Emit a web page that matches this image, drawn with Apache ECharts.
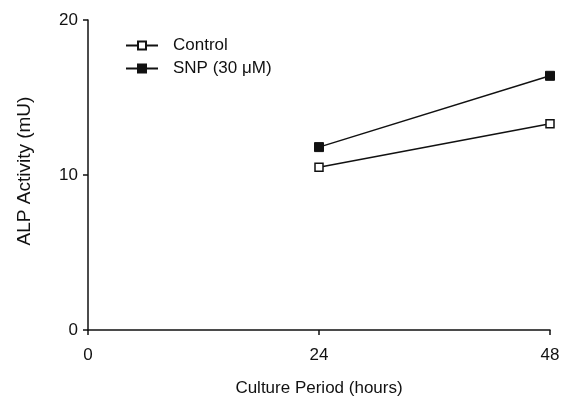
<!DOCTYPE html>
<html>
<head>
<meta charset="utf-8">
<script src="https://cdn.jsdelivr.net/npm/echarts@6/dist/echarts.min.js"></script>
<style>
  html, body { margin: 0; padding: 0; background: #fff; }
  #main { width: 566px; height: 405px; }
</style>
</head>
<body>
<div id="main"></div>
<script>
// 数据
const hours = [24, 48];
const control = [10.5, 13.3];
const snp = [11.8, 16.4];
const xTicks = [0, 24, 48];
const yTicks = [0, 10, 20];

const font = 'Liberation Sans, Arial, sans-serif';
const chart = echarts.init(document.getElementById('main'));

const pairs = (ys) => hours.map((h, i) => [h, ys[i]]);

const option = {
    animation: false,
    backgroundColor: '#fff',
    grid: { left: 88, right: 16, top: 20, bottom: 75 },
    legend: {
        left: 120, top: 32, orient: 'vertical', itemGap: 6,
        itemWidth: 32, itemHeight: 10,
        textStyle: { fontFamily: font, fontSize: 17, color: '#111', padding: [0, 0, 0, 10] },
        data: ['Control', 'SNP (30 μM)']
    },
    xAxis: {
        type: 'value', min: 0, max: 48, interval: 24,
        name: 'Culture Period (hours)', nameLocation: 'middle', nameGap: 50,
        nameTextStyle: { fontFamily: font, fontSize: 17, color: '#111' },
        axisLine: { lineStyle: { color: '#111', width: 1.5 } },
        axisTick: { length: 5, lineStyle: { color: '#111', width: 1.5 } },
        axisLabel: { fontFamily: font, fontSize: 17, color: '#111', margin: 17 },
        splitLine: { show: false }
    },
    yAxis: {
        type: 'value', min: 0, max: 20, interval: 10,
        name: 'ALP Activity (mU)', nameLocation: 'middle', nameGap: 54,
        nameTextStyle: { fontFamily: font, fontSize: 19, color: '#111', padding: [0, 0, 0, 8] },
        axisLine: { show: true, lineStyle: { color: '#111', width: 1.5 } },
        axisTick: { show: true, length: 5, lineStyle: { color: '#111', width: 1.5 } },
        axisLabel: { fontFamily: font, fontSize: 17, color: '#111', margin: 10 },
        splitLine: { show: false }
    },
    series: [
        {
            name: 'Control', type: 'line', data: pairs(control),
            symbol: 'rect', symbolSize: 8,
            lineStyle: { color: '#111', width: 1.5 },
            itemStyle: { color: '#fff', borderColor: '#111', borderWidth: 1.5 }
        },
        {
            name: 'SNP (30 μM)', type: 'line', data: pairs(snp),
            symbol: 'rect', symbolSize: 9,
            lineStyle: { color: '#111', width: 1.5 },
            itemStyle: { color: '#111', borderColor: '#111', borderWidth: 1 }
        }
    ]
};

chart.setOption(option);
</script>
</body>
</html>
